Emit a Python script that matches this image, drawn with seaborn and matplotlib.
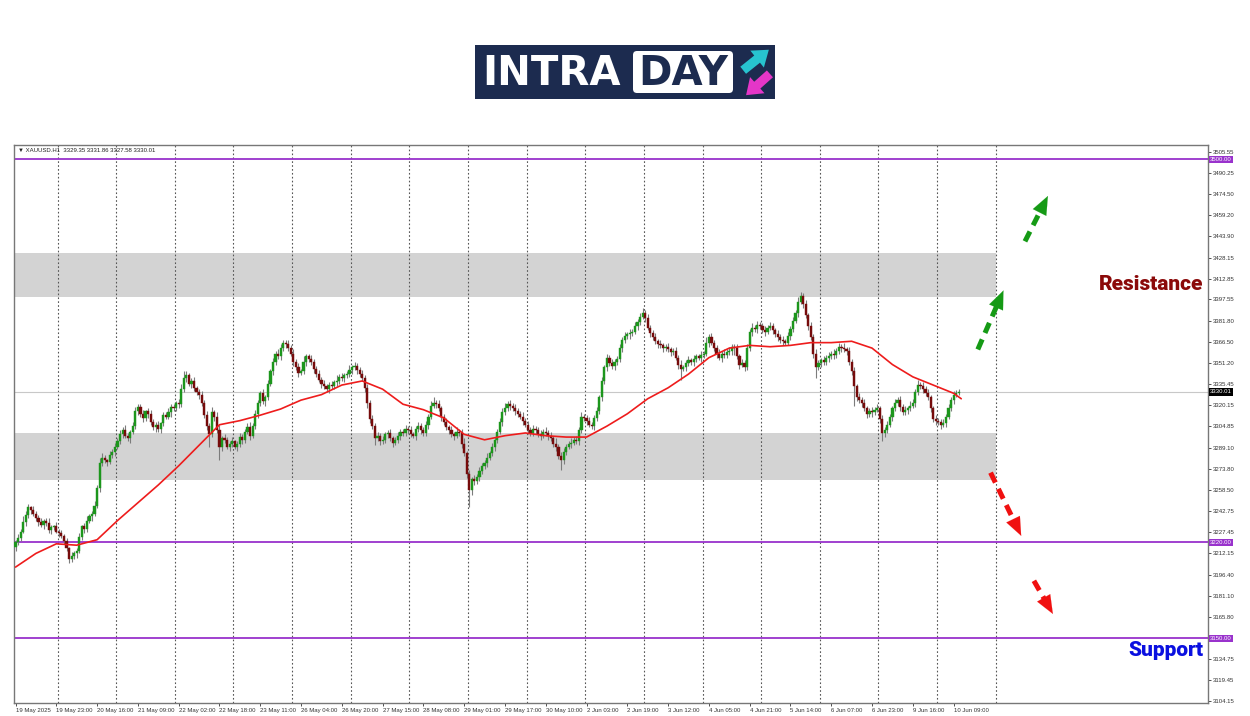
import numpy as np
import pandas as pd
import seaborn as sns
import matplotlib.pyplot as plt
from matplotlib.patches import FancyBboxPatch, Rectangle
import matplotlib.transforms as mtransforms

sns.set_theme(style='white')
plt.rcParams['font.family'] = ['Liberation Sans', 'DejaVu Sans']

# ---- data (bar 0 = 19 May 2025) ----
closes = [3220, 3223, 3228, 3235, 3240, 3246, 3244, 3241, 3238, 3235,
          3233, 3236, 3234, 3229, 3231, 3232, 3228, 3227, 3225, 3221,
          3216, 3208, 3210, 3212, 3214, 3224, 3232, 3230, 3236, 3239,
          3241, 3247, 3260, 3278, 3282, 3280, 3279, 3284, 3286, 3290,
          3294, 3299, 3302, 3298, 3296, 3301, 3305, 3316, 3319, 3314,
          3311, 3316, 3314, 3308, 3304, 3306, 3303, 3307, 3313, 3312,
          3315, 3319, 3318, 3322, 3321, 3332, 3340, 3342, 3336, 3338,
          3333, 3330, 3328, 3322, 3313, 3305, 3299, 3315, 3312, 3302,
          3290, 3296, 3295, 3290, 3292, 3294, 3290, 3292, 3297, 3295,
          3301, 3304, 3298, 3305, 3314, 3322, 3329, 3323, 3326, 3336,
          3345, 3352, 3358, 3356, 3362, 3366, 3365, 3362, 3358, 3352,
          3348, 3344, 3345, 3352, 3356, 3354, 3352, 3347, 3343, 3339,
          3336, 3334, 3332, 3335, 3334, 3337, 3338, 3341, 3340, 3342,
          3343, 3346, 3348, 3349, 3346, 3343, 3340, 3333, 3322, 3310,
          3305, 3296, 3298, 3294, 3295, 3299, 3300, 3296, 3293, 3295,
          3298, 3301, 3300, 3303, 3302, 3299, 3298, 3303, 3305, 3302,
          3300, 3306, 3312, 3320, 3322, 3321, 3318, 3312, 3308, 3304,
          3302, 3299, 3298, 3301, 3300, 3292, 3285, 3270, 3258, 3266,
          3265, 3268, 3272, 3276, 3278, 3282, 3285, 3290, 3295, 3301,
          3308, 3315, 3318, 3321, 3320, 3318, 3316, 3314, 3312, 3309,
          3306, 3302, 3300, 3303, 3302, 3299, 3298, 3301, 3300, 3298,
          3296, 3292, 3290, 3283, 3280, 3286, 3290, 3292, 3293, 3295,
          3294, 3302, 3312, 3311, 3309, 3306, 3305, 3311, 3316, 3326,
          3338, 3348, 3355, 3351, 3349, 3352, 3354, 3362, 3368, 3371,
          3372, 3373, 3374, 3378, 3381, 3385, 3388, 3384, 3377, 3373,
          3370, 3367, 3365, 3364, 3362, 3363, 3361, 3359, 3360, 3355,
          3350, 3347, 3348, 3351, 3353, 3352, 3354, 3356, 3355, 3357,
          3358, 3366, 3370, 3366, 3362, 3358, 3355, 3358, 3357, 3359,
          3360, 3363, 3362, 3356, 3350, 3351, 3348, 3362, 3374, 3377,
          3376, 3379, 3378, 3375, 3374, 3377, 3378, 3375, 3372, 3370,
          3368, 3367, 3366, 3371, 3376, 3382, 3388, 3396, 3400, 3394,
          3386, 3378, 3370, 3358, 3348, 3351, 3353, 3352, 3355, 3356,
          3358, 3357, 3360, 3363, 3362, 3361, 3360, 3352, 3345, 3334,
          3326, 3324, 3322, 3318, 3314, 3316, 3315, 3317, 3318, 3310,
          3300, 3302, 3306, 3312, 3318, 3322, 3324, 3319, 3315, 3317,
          3318, 3320, 3322, 3330, 3335, 3334, 3332, 3329, 3326, 3318,
          3310, 3309, 3308, 3306, 3307, 3312, 3318, 3324, 3328, 3329.35,
          3330.01]
first_open = 3217

up_wick = [2, 3, 2, 4, 3, 2, 1, 3, 2, 2, 3, 1, 2, 4, 2, 1, 3, 2, 2, 1,
           2, 1, 3, 2, 2, 3, 1, 2, 3, 2, 2, 3, 2, 4, 3, 2, 1, 3, 2, 3,
           2, 3, 2, 4, 2, 1, 3, 3, 2, 2, 3, 1, 2, 3, 2, 2, 3, 1, 2, 2,
           3, 2, 2, 1, 3, 4, 5, 3, 2, 2, 3, 1, 2, 3, 2, 3, 2, 4, 2, 3,
           4, 2, 3, 2, 2, 3, 1, 2, 3, 2, 2, 3, 4, 2, 3, 2, 2, 3, 2, 3,
           2, 3, 2, 3, 3, 2, 2, 3, 2, 3, 2, 3, 2, 4, 2, 2, 3, 2, 2, 3,
           2, 3, 2, 2, 3, 2, 4, 2, 3, 2, 2, 4, 2, 3, 2, 2, 3, 2, 3, 2,
           3, 2, 3, 2, 3, 2, 2, 3, 2, 2, 3, 2, 2, 3, 2, 3, 2, 2, 3, 2,
           2, 3, 2, 3, 4, 2, 3, 2, 2, 3, 2, 3, 2, 3, 2, 3, 4, 2, 3, 2,
           3, 2, 3, 2, 2, 3, 2, 3, 2, 2, 3, 3, 4, 2, 3, 2, 3, 2, 2, 3,
           2, 3, 2, 3, 2, 2, 3, 2, 3, 2, 3, 2, 4, 2, 3, 3, 2, 2, 3, 2,
           3, 2, 3, 2, 2, 3, 2, 2, 3, 2, 3, 2, 3, 2, 3, 2, 2, 3, 2, 3,
           2, 3, 2, 3, 2, 3, 3, 2, 3, 2, 2, 3, 2, 3, 2, 2, 3, 2, 2, 3,
           2, 3, 2, 2, 3, 2, 3, 2, 2, 3, 2, 4, 2, 3, 2, 2, 3, 2, 3, 2,
           3, 2, 2, 3, 2, 3, 2, 3, 2, 3, 2, 3, 2, 2, 3, 2, 3, 2, 2, 3,
           2, 3, 2, 3, 2, 3, 2, 3, 3, 2, 3, 2, 3, 2, 3, 2, 2, 3, 2, 3,
           2, 3, 2, 3, 2, 4, 2, 3, 2, 3, 2, 3, 2, 3, 2, 2, 3, 2, 3, 2,
           3, 2, 3, 2, 2, 3, 2, 3, 2, 3, 2, 3, 3, 2, 4, 2, 3, 2, 3, 2,
           2, 3, 2, 2, 3, 2, 3, 2, 3, 2, 1.85]
dn_wick = [3, 2, 2, 1, 3, 2, 3, 2, 2, 3, 2, 3, 2, 2, 3, 2, 1, 3, 2, 2,
           2, 3, 2, 2, 3, 2, 2, 3, 2, 2, 3, 2, 2, 3, 2, 2, 3, 2, 2, 3,
           2, 2, 3, 2, 2, 3, 2, 2, 3, 2, 3, 2, 3, 2, 2, 3, 2, 3, 2, 2,
           2, 3, 2, 2, 3, 2, 2, 3, 2, 3, 2, 2, 3, 2, 2, 3, 9, 2, 3, 2,
           10, 3, 2, 2, 3, 2, 2, 3, 2, 3, 2, 2, 3, 2, 2, 3, 2, 2, 3, 2,
           2, 3, 2, 2, 3, 2, 3, 2, 2, 3, 2, 3, 2, 2, 3, 2, 2, 3, 2, 2,
           3, 2, 2, 3, 2, 2, 3, 2, 2, 3, 2, 2, 3, 2, 3, 2, 2, 3, 4, 3,
           2, 5, 2, 3, 2, 2, 3, 2, 3, 2, 2, 3, 2, 2, 3, 2, 2, 3, 2, 3,
           2, 2, 3, 2, 2, 3, 2, 3, 2, 2, 3, 2, 3, 2, 2, 3, 2, 3, 12, 3,
           3, 2, 3, 2, 2, 3, 2, 2, 3, 2, 2, 3, 2, 2, 3, 2, 3, 2, 2, 3,
           2, 3, 2, 2, 3, 2, 3, 2, 2, 3, 2, 2, 3, 2, 7, 3, 2, 2, 3, 2,
           2, 3, 2, 2, 3, 2, 2, 3, 2, 2, 3, 2, 3, 2, 2, 3, 2, 2, 3, 2,
           2, 3, 2, 2, 3, 2, 2, 3, 2, 3, 2, 2, 3, 2, 3, 2, 2, 3, 2, 2,
           3, 8, 2, 3, 2, 2, 3, 2, 2, 3, 2, 2, 3, 2, 2, 3, 2, 3, 2, 2,
           2, 3, 5, 2, 3, 2, 3, 2, 2, 3, 2, 3, 2, 2, 3, 2, 2, 3, 2, 3,
           2, 3, 2, 2, 3, 2, 2, 3, 2, 3, 2, 3, 2, 3, 8, 2, 3, 2, 2, 3,
           2, 3, 2, 2, 3, 2, 3, 2, 3, 14, 3, 2, 3, 2, 3, 2, 3, 2, 2, 3,
           6, 3, 2, 2, 3, 2, 2, 3, 2, 2, 3, 2, 2, 3, 2, 2, 3, 2, 2, 3,
           2, 3, 2, 3, 2, 3, 2, 2, 3, 2, 1.77]

# red moving average, read every 8 bars
ma_vals = [3202, 3212, 3219, 3218, 3222, 3236, 3249, 3262, 3276, 3291,
           3306, 3309, 3313, 3317.5, 3324, 3328, 3335, 3338, 3332, 3321,
           3317, 3311, 3299, 3295, 3298, 3300, 3298, 3297, 3297, 3305,
           3314, 3325, 3333, 3343, 3355, 3362, 3364, 3363, 3364, 3366,
           3366, 3367, 3362, 3350, 3341, 3335, 3329, 3325]
ma_bars = list(range(0, 369, 8)) + [371]

y_ticks = [3505.55, 3490.25, 3474.50, 3459.20, 3443.90, 3428.15, 3412.85,
           3397.55, 3381.80, 3366.50, 3351.20, 3335.45, 3320.15, 3304.85,
           3289.10, 3273.80, 3258.50, 3242.75, 3227.45, 3212.15, 3196.40,
           3181.10, 3165.80, 3134.75, 3119.45, 3104.15]
x_labels = ['19 May 2025', '19 May 23:00', '20 May 16:00', '21 May 09:00',
            '22 May 02:00', '22 May 18:00', '23 May 11:00', '26 May 04:00',
            '26 May 20:00', '27 May 15:00', '28 May 08:00', '29 May 01:00',
            '29 May 17:00', '30 May 10:00', '2 Jun 03:00', '2 Jun 19:00',
            '3 Jun 12:00', '4 Jun 05:00', '4 Jun 21:00', '5 Jun 14:00',
            '6 Jun 07:00', '6 Jun 23:00', '9 Jun 16:00', '10 Jun 09:00']
levels = [3500.00, 3220.00, 3150.00]
last_price = 3330.01
header = '\u25bc XAUUSD.H1  3329.35 3331.86 3327.58 3330.01'
zones = [(3399.5, 3431.5), (3265.5, 3300.0)]

df = pd.DataFrame({'close': closes})
df['open'] = [first_open] + closes[:-1]
df['bar'] = np.arange(len(df))
df['top'] = df[['open', 'close']].max(axis=1)
df['bot'] = df[['open', 'close']].min(axis=1)
df['high'] = df['top'] + up_wick
df['low'] = df['bot'] - dn_wick
df['up'] = df['close'] >= df['open']

fig = plt.figure(figsize=(12.5, 7.16), dpi=100)
fig.patch.set_facecolor('white')

# ---- logo ----
lax = fig.add_axes([475 / 1250, 1 - 99 / 716, 300 / 1250, 54 / 716])
lax.set_xlim(0, 300)
lax.set_ylim(54, 0)
lax.axis('off')
navy = '#1c2b4f'
lax.add_patch(Rectangle((0, 0), 300, 54, fc=navy, ec='none'))
lax.text(7, 29, 'INTRA', color='white', fontsize=29, fontweight='bold',
         family='DejaVu Sans', va='center', ha='left')
lax.add_patch(FancyBboxPatch((158, 6), 100, 42, boxstyle='round,pad=0,rounding_size=4',
                             fc='white', ec='none'))
lax.text(208, 29, 'DAY', color=navy, fontsize=29, fontweight='bold',
         family='DejaVu Sans', va='center', ha='center')
lax.annotate('', xy=(296, 3), xytext=(266, 27),
             arrowprops=dict(arrowstyle='simple,head_width=1.3,head_length=0.9,tail_width=0.55',
                             color='#27c3cf', lw=0))
lax.annotate('', xy=(269, 52), xytext=(297, 27),
             arrowprops=dict(arrowstyle='simple,head_width=1.3,head_length=0.9,tail_width=0.55',
                             color='#e436c8', lw=0))

# ---- chart ----
ax = fig.add_axes([14 / 1250, 13 / 716, 1194 / 1250, 558 / 716])
ax.set_facecolor('white')
ax.set_xlim(-0.6, 467.8)
ax.set_ylim(3102.7, 3510.4)

for lo, hi in zones:
    ax.fill_between([-1, 384.5], lo, hi, color='#d3d3d3', lw=0, zorder=0)

# day separators
for xb in np.arange(16.5, 390, 23):
    ax.axvline(xb, color='#555555', lw=0.8, ls=(0, (1.5, 2)), zorder=1)

ax.axhline(last_price, color='#c8c8c8', lw=0.8, zorder=1)
for lv in levels:
    ax.axhline(lv, color='#9932cc', lw=1.3, zorder=2)

# candles
ax.vlines(df['bar'], df['low'], df['high'], color='#7c7c7c', lw=0.8, zorder=3)
body_h = (df['top'] - df['bot']).clip(lower=0.5)
cols = np.where(df['up'], '#1c961c', '#760b0b')
ax.bar(df['bar'], body_h, bottom=df['bot'], width=0.85, color=cols,
       edgecolor=cols, lw=0.3, zorder=4)

sns.lineplot(x=ma_bars, y=ma_vals, ax=ax, color='#ee1c1c', lw=1.2, zorder=5)


def dashed_arrow(x0, y0, x1, y1, color):
    ax.plot([x0, x0 + (x1 - x0) * 0.8], [y0, y0 + (y1 - y0) * 0.8], color=color,
            lw=3.6, dashes=(2.2, 1.4), solid_capstyle='butt', zorder=6)
    ax.annotate('', xy=(x1, y1), xytext=(x0 + (x1 - x0) * 0.7, y0 + (y1 - y0) * 0.7),
                arrowprops=dict(arrowstyle='-|>,head_width=0.45,head_length=1.1',
                                color=color, lw=0.1), zorder=6)


dashed_arrow(377.5, 3361, 388, 3406, '#159a15')
dashed_arrow(396, 3440, 405.5, 3475, '#159a15')
dashed_arrow(382.5, 3271, 395, 3223, '#f01010')
dashed_arrow(399.5, 3192, 407.5, 3166, '#f01010')

fig.text(1203 / 1250, 1 - 285 / 716, 'Resistance', color='#8b0a0a', fontsize=15,
         fontweight=900, family='Roboto', ha='right', va='center')
fig.text(1203 / 1250, 1 - 651 / 716, 'Support', color='#0a10e0', fontsize=15,
         fontweight=900, family='Roboto', ha='right', va='center')

ax.text(0.003, 0.994, header, transform=ax.transAxes, fontsize=4.3, color='#222222',
        va='top', ha='left', family=['Liberation Sans', 'DejaVu Sans'])

# axes
ax.yaxis.tick_right()
ax.set_yticks(y_ticks)
ax.set_yticklabels([f'{v:.2f}' for v in y_ticks])
ax.set_xticks(np.arange(0, 369, 16))
ax.set_xticklabels(x_labels)
plt.setp(ax.get_xticklabels(), ha='left')
ax.tick_params(axis='both', which='both', direction='out', length=2.2, width=0.6,
               pad=1.2, labelsize=4.3, colors='#333333')
ax.tick_params(axis='x', bottom=True)
ax.tick_params(axis='y', right=True, left=False)
for s in ax.spines.values():
    s.set_color('#777777')
    s.set_linewidth(1.0)
ax.set_xlabel('')
ax.set_ylabel('')
ax.grid(False)

trans = mtransforms.blended_transform_factory(ax.transAxes, ax.transData)
for lv in levels:
    ax.text(1.0015, lv, f'{lv:.2f}', transform=trans, fontsize=4.3, color='white',
            va='center', ha='left', bbox=dict(boxstyle='square,pad=0.2', fc='#9932cc', ec='none'))
ax.text(1.0015, last_price, f'{last_price:.2f}', transform=trans, fontsize=4.3, color='white',
        va='center', ha='left', bbox=dict(boxstyle='square,pad=0.2', fc='black', ec='none'))

fig.savefig('out.png', dpi=100, facecolor='white')
